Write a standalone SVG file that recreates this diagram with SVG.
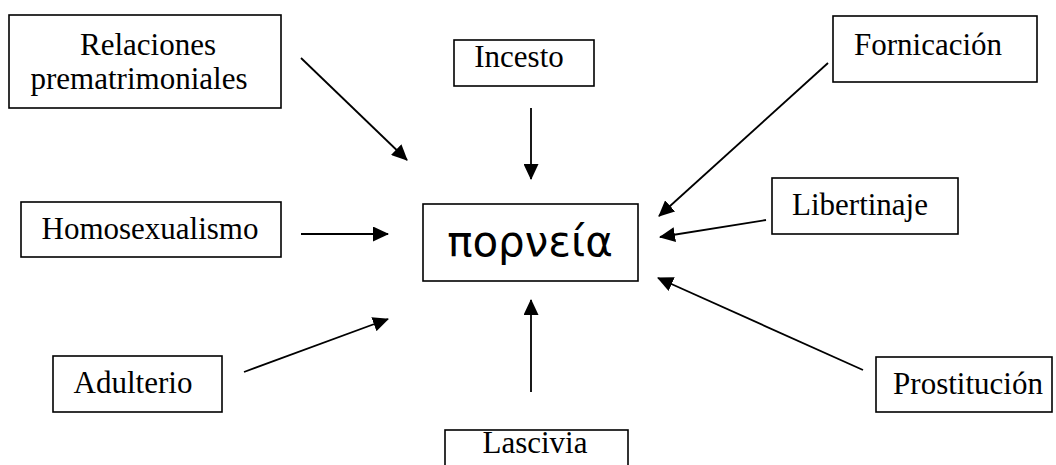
<svg xmlns="http://www.w3.org/2000/svg" width="1056" height="465" viewBox="0 0 1056 465">
<style>
.box{fill:#fff;stroke:#000;stroke-width:1.6}
.t{font-family:"Liberation Serif","Times New Roman",serif;font-size:31px;fill:#000;text-anchor:middle}
.g{font-family:"DejaVu Sans","Noto Sans",sans-serif;font-size:42px;fill:#000;text-anchor:middle}
.c{stroke:#000;stroke-width:1.8;fill:none;marker-end:url(#ah)}
</style>
<defs>
<marker id="ah" viewBox="0 0 16 15" refX="15" refY="7.5" markerWidth="16" markerHeight="15" markerUnits="userSpaceOnUse" orient="auto">
<path d="M0,0 L16,7.5 L0,15 z" fill="#000"/>
</marker>
</defs>
<rect width="1056" height="465" fill="#fff"/>
<g id="connectors">
<path d="M301,58 L407,160" class="c"/>
<path d="M531,108 L531,179" class="c"/>
<path d="M828,63 L659,216" class="c"/>
<path d="M766,220 L660,237" class="c"/>
<path d="M301,234 L388,234" class="c"/>
<path d="M244,372 L388,319" class="c"/>
<path d="M531,392 L531,300" class="c"/>
<path d="M863,370 L658,278" class="c"/>
</g>
<g id="node-porneia">
<rect class="box" x="423" y="204" width="215" height="77"/>
<text class="g" x="530" y="256">πορνεία</text>
</g>
<g id="node-relaciones">
<rect class="box" x="9" y="15" width="272" height="93"/>
<text class="t" x="148" y="55">Relaciones</text>
<text class="t" x="139" y="89">prematrimoniales</text>
</g>
<g id="node-incesto">
<rect class="box" x="454" y="40" width="140" height="46"/>
<text class="t" x="519" y="67">Incesto</text>
</g>
<g id="node-fornicacion">
<rect class="box" x="833" y="16" width="204" height="66"/>
<text class="t" x="928" y="55">Fornicación</text>
</g>
<g id="node-libertinaje">
<rect class="box" x="772" y="178" width="186" height="56"/>
<text class="t" x="860" y="215">Libertinaje</text>
</g>
<g id="node-homosexualismo">
<rect class="box" x="21" y="202" width="260" height="55"/>
<text class="t" x="150" y="239">Homosexualismo</text>
</g>
<g id="node-adulterio">
<rect class="box" x="53" y="356" width="169" height="56"/>
<text class="t" x="133" y="393">Adulterio</text>
</g>
<g id="node-prostitucion">
<rect class="box" x="876" y="357" width="176" height="55"/>
<text class="t" x="968" y="394">Prostitución</text>
</g>
<g id="node-lascivia">
<rect class="box" x="445" y="430" width="183" height="50"/>
<text class="t" x="535" y="453">Lascivia</text>
</g>
</svg>
